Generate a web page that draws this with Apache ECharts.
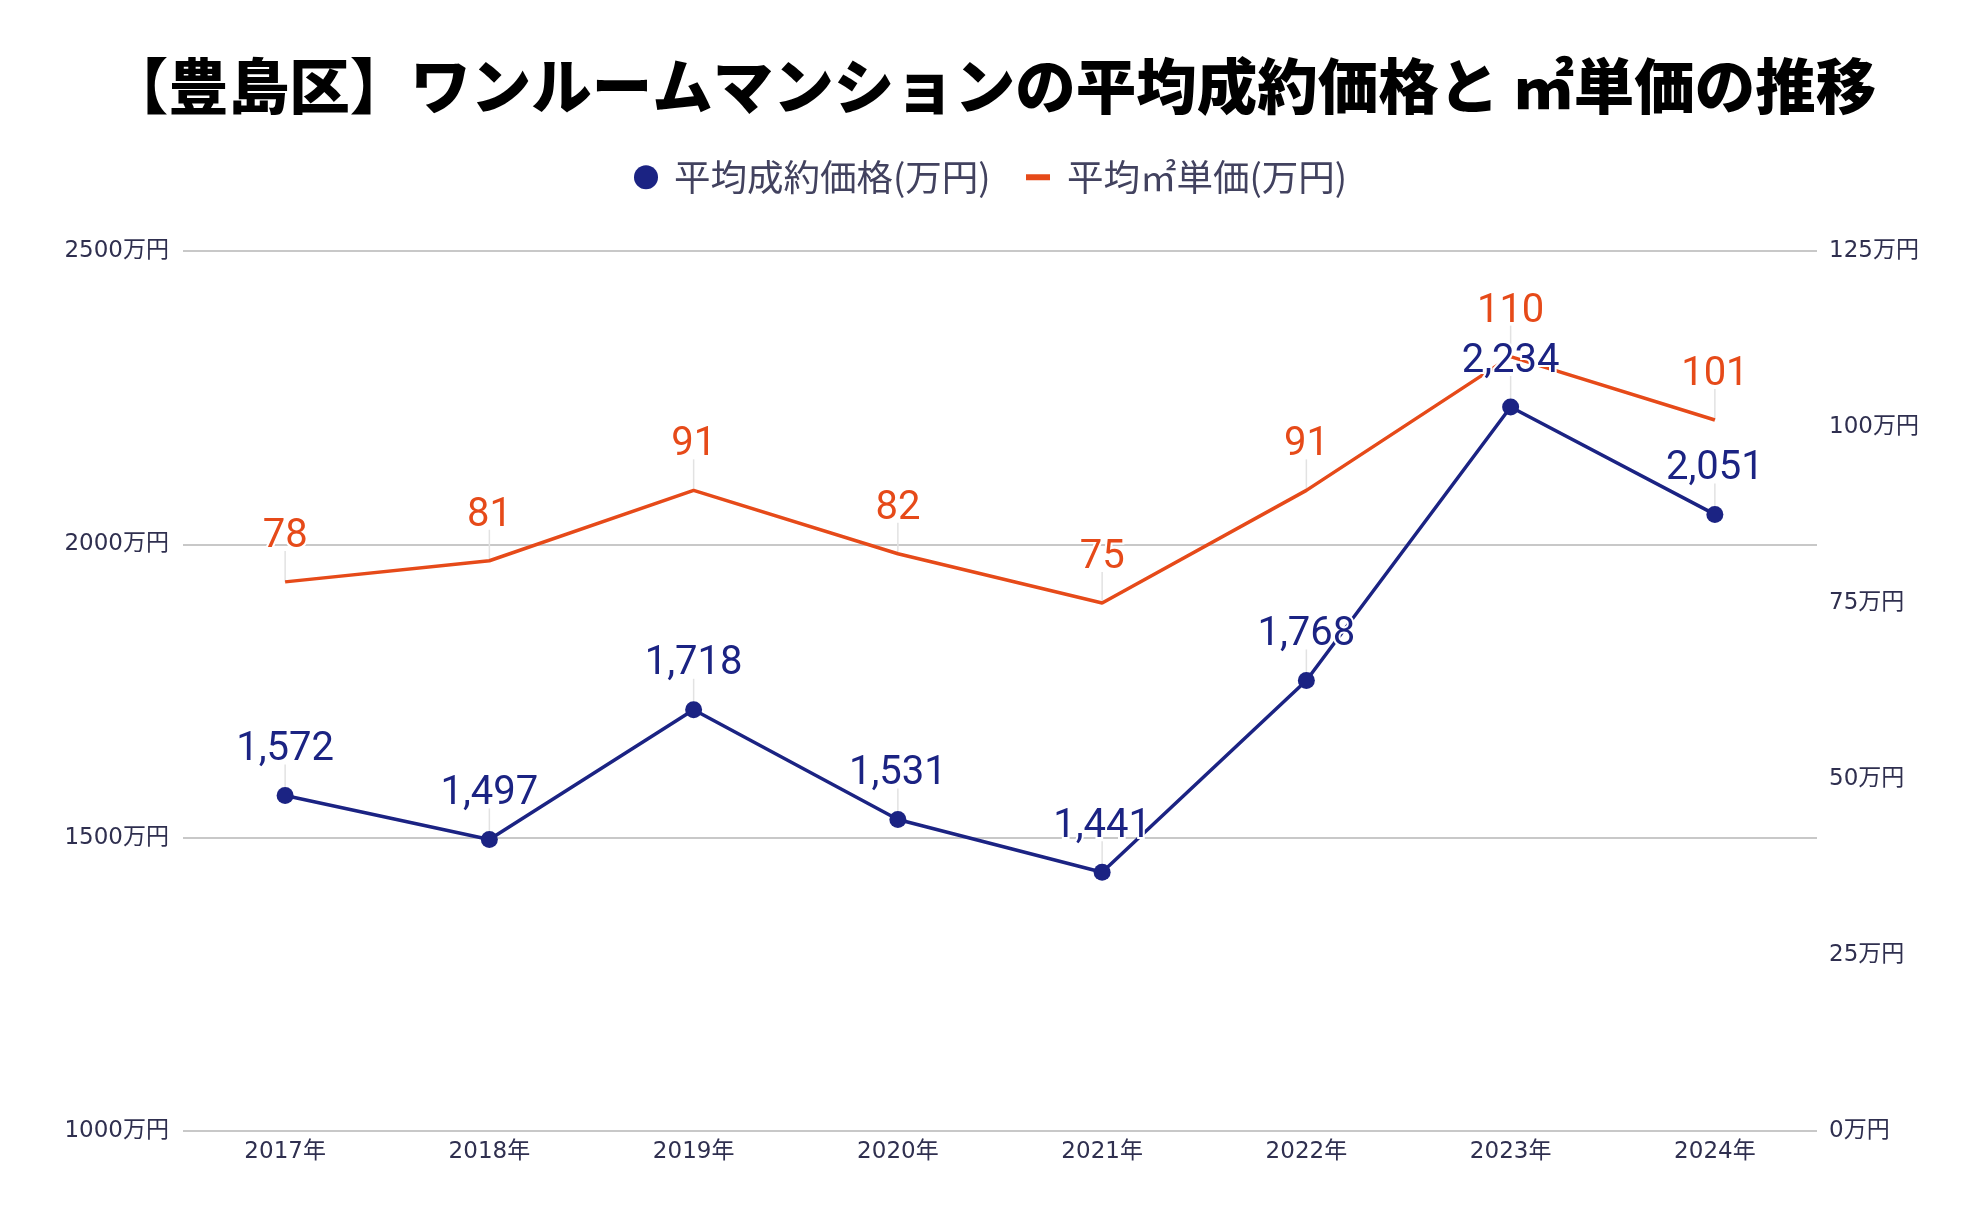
<!DOCTYPE html>
<html>
<head>
<meta charset="utf-8">
<script src="https://cdn.jsdelivr.net/npm/echarts@6/dist/echarts.min.js"></script>
<style>
html,body{margin:0;padding:0;background:#fff;}
#chart{width:1984px;height:1228px;}
</style>
</head>
<body>
<div id="chart"></div>
<script>
var titleText = '【豊島区】ワンルームマンションの平均成約価格と ㎡単価の推移';
var categories = ['2017年','2018年','2019年','2020年','2021年','2022年','2023年','2024年'];
var priceName = '平均成約価格(万円)';
var unitName = '平均㎡単価(万円)';
var priceValues = [1572, 1497, 1718, 1531, 1441, 1768, 2234, 2051];
var unitValues = [78, 81, 91, 82, 75, 91, 110, 101];
var leftTicks = {min: 1000, max: 2500, interval: 500};
var rightTicks = {min: 0, max: 125, interval: 25};

var BLUE = '#1b2383';
var ORANGE = '#e64a19';
var AXIS_TEXT = '#2f2f4f';
var AXIS_FONT = '"DejaVu Sans", "Noto Sans CJK JP", sans-serif';

function leaderSeries(values, yIdx) {
  return {
    type: 'custom',
    yAxisIndex: yIdx,
    silent: true,
    z: 1,
    data: values.map(function (v, i) { return [i, v]; }),
    renderItem: function (params, api) {
      var p = api.coord([api.value(0), api.value(1)]);
      return {
        type: 'line',
        shape: {x1: p[0], y1: p[1] - 31, x2: p[0], y2: p[1]},
        style: {stroke: '#e2e2e2', lineWidth: 1.5}
      };
    }
  };
}

var chart = echarts.init(document.getElementById('chart'));
chart.setOption({
  backgroundColor: '#ffffff',
  animation: false,
  title: {
    text: titleText,
    left: 'center',
    top: 51,
    textStyle: {fontFamily: 'Noto Sans CJK JP', fontSize: 60.5, fontWeight: 900, color: '#000'}
  },
  legend: [
    {
      data: [{name: priceName, icon: 'circle'}],
      left: 634, top: 159, padding: 0,
      itemWidth: 24, itemHeight: 24,
      textStyle: {fontFamily: 'Noto Sans CJK JP', fontSize: 36.5, color: '#42425f', padding: [0, 0, 0, 11]}
    },
    {
      data: [{name: unitName, icon: 'rect'}],
      left: 1026, top: 159, padding: 0,
      itemWidth: 24, itemHeight: 6,
      textStyle: {fontFamily: 'Noto Sans CJK JP', fontSize: 36.5, color: '#42425f', padding: [0, 0, 0, 12]}
    }
  ],
  grid: {left: 183, right: 167, top: 251, bottom: 97, containLabel: false},
  xAxis: {
    type: 'category',
    data: categories,
    boundaryGap: true,
    axisLine: {show: false},
    axisTick: {show: false},
    axisLabel: {fontFamily: AXIS_FONT, fontSize: 23, color: AXIS_TEXT, margin: 10}
  },
  yAxis: [
    {
      type: 'value',
      min: leftTicks.min, max: leftTicks.max, interval: leftTicks.interval,
      axisLine: {show: false}, axisTick: {show: false},
      axisLabel: {fontFamily: AXIS_FONT, fontSize: 23, color: AXIS_TEXT, margin: 14,
        formatter: function (v) { return v + '万円'; }},
      splitLine: {show: true, lineStyle: {color: '#c8c8c8', width: 2}}
    },
    {
      type: 'value',
      min: rightTicks.min, max: rightTicks.max, interval: rightTicks.interval,
      axisLine: {show: false}, axisTick: {show: false},
      axisLabel: {fontFamily: AXIS_FONT, fontSize: 23, color: AXIS_TEXT, margin: 12,
        formatter: function (v) { return v + '万円'; }},
      splitLine: {show: false}
    }
  ],
  series: [
    leaderSeries(unitValues, 1),
    leaderSeries(priceValues, 0),
    {
      name: unitName,
      type: 'line',
      yAxisIndex: 1,
      data: unitValues,
      z: 2,
      symbol: 'circle',
      symbolSize: 0.01,
      itemStyle: {color: ORANGE},
      lineStyle: {color: ORANGE, width: 3.5},
      label: {
        show: true, position: 'top', distance: 25,
        fontFamily: 'Roboto', fontSize: 40, color: ORANGE,
        textBorderColor: '#fff', textBorderWidth: 4
      }
    },
    {
      name: priceName,
      type: 'line',
      yAxisIndex: 0,
      data: priceValues,
      z: 3,
      symbol: 'circle',
      symbolSize: 17,
      itemStyle: {color: BLUE},
      lineStyle: {color: BLUE, width: 3.5},
      label: {
        show: true, position: 'top', distance: 17,
        fontFamily: 'Roboto', fontSize: 40, color: BLUE,
        textBorderColor: '#fff', textBorderWidth: 4,
        formatter: function (p) { return echarts.format.addCommas(p.value); }
      }
    }
  ]
});
</script>
</body>
</html>
